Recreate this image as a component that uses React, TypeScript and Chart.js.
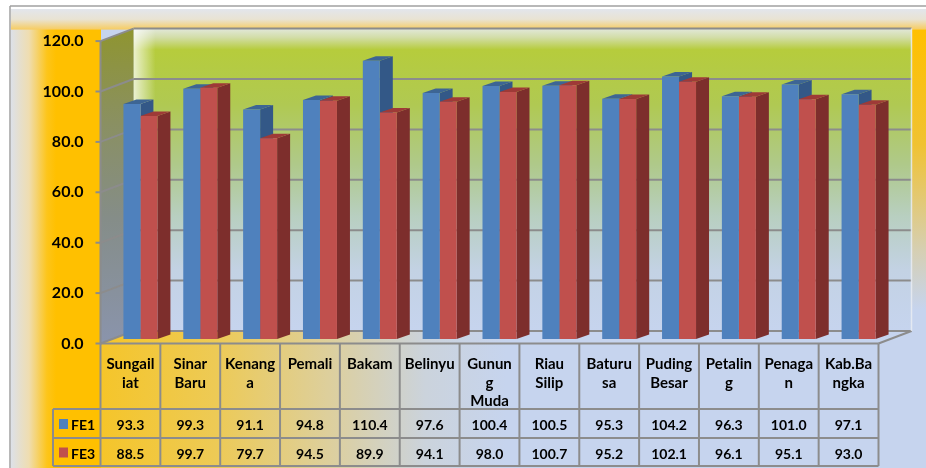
import React, { useEffect, useRef } from "react";
import { Chart, registerables } from "chart.js";
Chart.register(...registerables);

const W = 926;
const H = 468;

const categoryLines: string[][] = [
  ["Sungail", "iat"],
  ["Sinar", "Baru"],
  ["Kenang", "a"],
  ["Pemali"],
  ["Bakam"],
  ["Belinyu"],
  ["Gunun", "g", "Muda"],
  ["Riau", "Silip"],
  ["Baturu", "sa"],
  ["Puding", "Besar"],
  ["Petalin", "g"],
  ["Penaga", "n"],
  ["Kab.Ba", "ngka"],
];
const categories = categoryLines.map((l) => l.join(""));
const seriesNames = ["FE1", "FE3"];
const fe1 = [93.3, 99.3, 91.1, 94.8, 110.4, 97.6, 100.4, 100.5, 95.3, 104.2, 96.3, 101.0, 97.1];
const fe3 = [88.5, 99.7, 79.7, 94.5, 89.9, 94.1, 98.0, 100.7, 95.2, 102.1, 96.1, 95.1, 93.0];
const yMin = 0;
const yMax = 120;
const yStep = 20;

const frontColors = ["#4F81BD", "#C0504D"];
const sideColors = ["#335887", "#7D2E2C"];
const topColors = ["#3D6594", "#9E3A37"];

const FRONT = { dx: -10, dy: 4.5 };
const BACK = { dx: 23, dy: -8 };
const DEPTH = { dx: 13, dy: -4.5 };

const GRID = "#8C8C8C";
const FONT = "Lato, 'Open Sans', sans-serif";

function poly(ctx: CanvasRenderingContext2D, pts: number[][]) {
  ctx.beginPath();
  ctx.moveTo(pts[0][0], pts[0][1]);
  for (let i = 1; i < pts.length; i++) ctx.lineTo(pts[i][0], pts[i][1]);
  ctx.closePath();
  ctx.fill();
}
function line(ctx: CanvasRenderingContext2D, x1: number, y1: number, x2: number, y2: number) {
  ctx.beginPath();
  ctx.moveTo(x1, y1);
  ctx.lineTo(x2, y2);
  ctx.stroke();
}

const threeD = {
  id: "threeD",
  beforeDraw(chart: any) {
    const ctx: CanvasRenderingContext2D = chart.ctx;
    const ca = chart.chartArea;
    const ys = chart.scales.y;
    const fy = (v: number) => ys.getPixelForValue(v) + FRONT.dy;
    const by = (v: number) => ys.getPixelForValue(v) + BACK.dy;
    const fl = ca.left + FRONT.dx;
    const fr = ca.right + FRONT.dx;
    const bl = ca.left + BACK.dx;
    const br = ca.right + BACK.dx;
    ctx.save();
    ctx.fillStyle = "#ffffff";
    ctx.fillRect(0, 0, W, H);
    // base background
    ctx.fillStyle = "#C6D4EE";
    ctx.fillRect(11, 9, W - 11, H - 9);
    // left band
    let g = ctx.createLinearGradient(11, 0, 101, 0);
    g.addColorStop(0, "#DDE1E8");
    g.addColorStop(0.2, "#EFDDB0");
    g.addColorStop(0.4, "#FDC51A");
    g.addColorStop(0.5, "#FFC000");
    g.addColorStop(1, "#FFC000");
    ctx.fillStyle = g;
    ctx.fillRect(11, 9, 90, H - 9);
    // floor + table region band
    g = ctx.createLinearGradient(101, 0, 912, 0);
    g.addColorStop(0, "#F5C52A");
    g.addColorStop(0.14, "#EDCA55");
    g.addColorStop(0.28, "#DDCF9C");
    g.addColorStop(0.4, "#CBD3DC");
    g.addColorStop(0.5, "#C6D4EE");
    g.addColorStop(1, "#C6D4EE");
    ctx.fillStyle = g;
    ctx.fillRect(101, by(0), 811, H - by(0));
    // right strip
    g = ctx.createLinearGradient(0, 9, 0, 310);
    g.addColorStop(0, "#F3D27A");
    g.addColorStop(0.07, "#FFC000");
    g.addColorStop(0.45, "#F0C232");
    g.addColorStop(0.8, "#D6CFB2");
    g.addColorStop(1, "#C6D4EE");
    ctx.fillStyle = g;
    ctx.fillRect(br, 9, W - br, 301);
    // top band
    g = ctx.createLinearGradient(0, 9, 0, by(yMax) + 1);
    g.addColorStop(0, "#E3E6EC");
    g.addColorStop(0.5, "#E9E3D3");
    g.addColorStop(1, "#F7CC60");
    ctx.fillStyle = g;
    ctx.fillRect(11, 9, W - 11, by(yMax) + 1 - 9);

    // back wall
    const bt = by(yMax);
    const bb = by(yMin);
    g = ctx.createLinearGradient(0, bt, 0, bb);
    g.addColorStop(0, "#E2E8DA");
    g.addColorStop(0.03, "#D2DDA6");
    g.addColorStop(0.07, "#B6CC3C");
    g.addColorStop(0.25, "#B0C952");
    g.addColorStop(0.45, "#AFC98A");
    g.addColorStop(0.62, "#B8CFC0");
    g.addColorStop(0.8, "#C3D2E4");
    g.addColorStop(1, "#C6D4EE");
    ctx.fillStyle = g;
    ctx.fillRect(bl, bt, br - bl, bb - bt);
    g = ctx.createLinearGradient(bl, 0, bl + 22, 0);
    g.addColorStop(0, "rgba(255,255,255,0.75)");
    g.addColorStop(1, "rgba(255,255,255,0)");
    ctx.fillStyle = g;
    ctx.fillRect(bl, bt, 22, bb - bt);

    // side wall
    g = ctx.createLinearGradient(0, bt, 0, fy(yMin));
    g.addColorStop(0, "#8F9530");
    g.addColorStop(0.3, "#8A9062");
    g.addColorStop(0.6, "#858D88");
    g.addColorStop(1, "#8A94AC");
    ctx.fillStyle = g;
    poly(ctx, [
      [fl, fy(yMax)],
      [bl, by(yMax)],
      [bl, by(yMin)],
      [fl, fy(yMin)],
    ]);

    // gridlines
    ctx.strokeStyle = GRID;
    ctx.lineWidth = 2;
    for (let v = yMin; v <= yMax; v += yStep) {
      line(ctx, bl, by(v), br, by(v));
      line(ctx, fl, fy(v), bl, by(v));
      line(ctx, fl - 5, fy(v), fl, fy(v));
    }
    line(ctx, fl, fy(yMax), fl, fy(yMin));
    line(ctx, fr, fy(0), br, by(0));
    ctx.strokeStyle = "rgba(235,238,242,0.8)";
    ctx.lineWidth = 1.5;
    line(ctx, br, by(yMax), br, by(yMin));

    // outer frame
    ctx.strokeStyle = "#A0A0A0";
    ctx.lineWidth = 1.5;
    line(ctx, 10, 6, W, 6);
    line(ctx, 10, 6, 10, H);
    ctx.restore();
  },
  beforeDatasetsDraw(chart: any) {
    const ctx: CanvasRenderingContext2D = chart.ctx;
    const n = chart.data.labels.length;
    ctx.save();
    for (let i = 0; i < n; i++) {
      for (let d = 0; d < chart.data.datasets.length; d++) {
        const el = chart.getDatasetMeta(d).data[i];
        const p = el.getProps(["x", "y", "base", "width"], true);
        const l = p.x - p.width / 2;
        const r = p.x + p.width / 2;
        ctx.fillStyle = sideColors[d];
        poly(ctx, [
          [r, p.y],
          [r + DEPTH.dx, p.y + DEPTH.dy],
          [r + DEPTH.dx, p.base + DEPTH.dy],
          [r, p.base],
        ]);
        ctx.fillStyle = topColors[d];
        poly(ctx, [
          [l, p.y],
          [l + DEPTH.dx, p.y + DEPTH.dy],
          [r + DEPTH.dx, p.y + DEPTH.dy],
          [r, p.y],
        ]);
      }
    }
    ctx.restore();
  },
  afterDraw(chart: any) {
    const ctx: CanvasRenderingContext2D = chart.ctx;
    const ca = chart.chartArea;
    const ys = chart.scales.y;
    const n = categories.length;
    const cw = (ca.right - ca.left) / n;
    const x0 = ca.left + FRONT.dx;
    const top = ys.getPixelForValue(0) + FRONT.dy;
    const headBottom = 409;
    const row1Bottom = 438;
    const row2Bottom = 466;
    const legLeft = 53;
    ctx.save();
    ctx.strokeStyle = GRID;
    ctx.lineWidth = 2;
    line(ctx, x0, top, x0 + n * cw, top);
    line(ctx, legLeft, headBottom, x0 + n * cw, headBottom);
    line(ctx, legLeft, row1Bottom, x0 + n * cw, row1Bottom);
    line(ctx, legLeft, row2Bottom, x0 + n * cw, row2Bottom);
    for (let i = 0; i <= n; i++) line(ctx, x0 + i * cw, top, x0 + i * cw, row2Bottom);
    line(ctx, legLeft, headBottom, legLeft, row2Bottom);

    ctx.fillStyle = "#000";
    ctx.textAlign = "center";
    ctx.textBaseline = "alphabetic";
    const series = [fe1, fe3];
    const rowBase = [430, 458.5];
    for (let i = 0; i < n; i++) {
      const cx = x0 + (i + 0.5) * cw;
      ctx.font = `bold 15px ${FONT}`;
      categoryLines[i].forEach((t, k) => ctx.fillText(t, cx, 369 + k * 18.5));
      ctx.font = `bold 14px ${FONT}`;
      series.forEach((s, d) => ctx.fillText(s[i].toFixed(1), cx, rowBase[d]));
    }
    ctx.textAlign = "left";
    ctx.font = `bold 14px ${FONT}`;
    seriesNames.forEach((name, d) => {
      ctx.fillStyle = frontColors[d];
      ctx.fillRect(59, rowBase[d] - 11, 9, 10);
      ctx.fillStyle = "#000";
      ctx.fillText(name, 71, rowBase[d]);
    });
    ctx.restore();
  },
};

export default function App() {
  const ref = useRef<HTMLCanvasElement>(null);
  useEffect(() => {
    if (!ref.current) return;
    const chart = new Chart(ref.current, {
      type: "bar",
      data: {
        labels: categories,
        datasets: [
          { label: seriesNames[0], data: fe1, backgroundColor: frontColors[0], borderWidth: 0 },
          { label: seriesNames[1], data: fe3, backgroundColor: frontColors[1], borderWidth: 0 },
        ],
      },
      options: {
        responsive: false,
        maintainAspectRatio: false,
        animation: false,
        events: [],
        layout: { padding: { left: 0, right: 37.5, top: 36.6, bottom: 129 } },
        datasets: { bar: { categoryPercentage: 0.568, barPercentage: 1 } },
        plugins: { legend: { display: false }, tooltip: { enabled: false } },
        scales: {
          x: { display: false },
          y: {
            min: yMin,
            max: yMax,
            afterFit: (s: any) => {
              s.width = 110.5;
            },
            grid: { display: false, drawTicks: false },
            border: { display: false },
            ticks: {
              stepSize: yStep,
              padding: 27,
              labelOffset: 4.5,
              color: "#000",
              font: { family: FONT, weight: "bold", size: 16 },
              callback: (v: any) => Number(v).toFixed(1),
            },
          },
        },
      },
      plugins: [threeD],
    } as any);
    return () => chart.destroy();
  }, []);
  return (
    <div style={{ position: "fixed", left: 0, top: 0, width: W, height: H }}>
      <canvas ref={ref} width={W} height={H} style={{ display: "block" }} />
    </div>
  );
}
